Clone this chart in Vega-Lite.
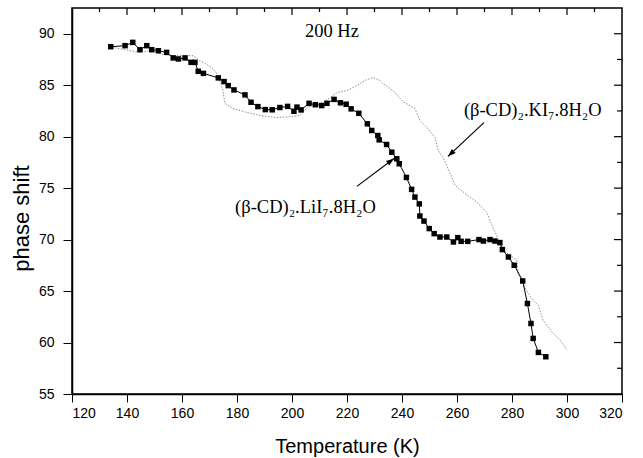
{
  "$schema": "https://vega.github.io/schema/vega-lite/v6.json",
  "width": 550,
  "height": 386,
  "autosize": {"type": "none"},
  "padding": {"left": 72, "top": 8, "right": 21, "bottom": 64},
  "background": "white",
  "config": {
    "view": {"stroke": "black", "strokeWidth": 1.5},
    "axis": {
      "domainColor": "black",
      "domainWidth": 1.5,
      "tickColor": "black",
      "tickWidth": 1,
      "grid": false,
      "labelFont": "Liberation Sans",
      "labelFontSize": 14,
      "labelColor": "black",
      "titleFont": "Liberation Sans",
      "titleFontWeight": "normal",
      "titleColor": "black"
    }
  },
  "datasets": {
    "li": [
      {"T": 134.1, "P": 88.74}, {"T": 139.3, "P": 88.84}, {"T": 142.1, "P": 89.16}, {"T": 144.7, "P": 88.45},
      {"T": 147.2, "P": 88.84}, {"T": 149.0, "P": 88.45}, {"T": 151.4, "P": 88.35}, {"T": 154.4, "P": 88.19},
      {"T": 156.8, "P": 87.65}, {"T": 158.7, "P": 87.55}, {"T": 161.1, "P": 87.65}, {"T": 163.3, "P": 87.22},
      {"T": 164.7, "P": 87.22}, {"T": 165.9, "P": 86.35}, {"T": 167.8, "P": 86.15}, {"T": 173.2, "P": 85.71},
      {"T": 175.3, "P": 85.35}, {"T": 176.8, "P": 84.96}, {"T": 178.9, "P": 84.54}, {"T": 182.9, "P": 84.06},
      {"T": 185.1, "P": 83.34}, {"T": 187.6, "P": 82.92}, {"T": 190.3, "P": 82.63}, {"T": 192.8, "P": 82.61},
      {"T": 195.6, "P": 82.83}, {"T": 198.4, "P": 82.94}, {"T": 200.7, "P": 82.47}, {"T": 201.8, "P": 82.87},
      {"T": 203.3, "P": 82.6}, {"T": 206.2, "P": 83.24}, {"T": 208.5, "P": 83.1}, {"T": 210.8, "P": 83.02},
      {"T": 212.7, "P": 83.24}, {"T": 215.3, "P": 83.62}, {"T": 217.6, "P": 83.29}, {"T": 219.7, "P": 83.15},
      {"T": 221.5, "P": 82.7}, {"T": 224.3, "P": 82.27}, {"T": 227.4, "P": 81.25}, {"T": 229.0, "P": 80.6},
      {"T": 231.2, "P": 80.11}, {"T": 231.7, "P": 79.69}, {"T": 234.4, "P": 79.24}, {"T": 236.3, "P": 78.49},
      {"T": 238.1, "P": 77.85}, {"T": 239.0, "P": 77.37}, {"T": 241.6, "P": 76.04}, {"T": 243.5, "P": 74.88},
      {"T": 244.7, "P": 74.13}, {"T": 246.3, "P": 73.47}, {"T": 246.5, "P": 72.29}, {"T": 248.0, "P": 71.8},
      {"T": 249.9, "P": 71.07}, {"T": 251.7, "P": 70.58}, {"T": 253.8, "P": 70.25}, {"T": 256.3, "P": 70.25},
      {"T": 258.7, "P": 69.77}, {"T": 260.3, "P": 70.19}, {"T": 261.5, "P": 69.83}, {"T": 263.9, "P": 69.83},
      {"T": 268.0, "P": 70.0}, {"T": 269.6, "P": 69.86}, {"T": 272.0, "P": 70.0}, {"T": 273.8, "P": 69.86},
      {"T": 275.6, "P": 69.71}, {"T": 276.5, "P": 69.03}, {"T": 278.7, "P": 68.31}, {"T": 280.8, "P": 67.51},
      {"T": 283.9, "P": 65.98}, {"T": 285.6, "P": 63.79}, {"T": 286.9, "P": 61.85}, {"T": 287.7, "P": 60.4},
      {"T": 289.6, "P": 59.04}, {"T": 292.3, "P": 58.62}
    ],
    "ki": [
      {"T": 135.6, "P": 88.64}, {"T": 141.1, "P": 88.35}, {"T": 144.7, "P": 88.19}, {"T": 148.4, "P": 88.35},
      {"T": 152.0, "P": 88.06}, {"T": 156.7, "P": 87.87}, {"T": 161.1, "P": 87.87}, {"T": 164.0, "P": 87.87},
      {"T": 166.5, "P": 87.38}, {"T": 169.1, "P": 87.0}, {"T": 171.3, "P": 86.61}, {"T": 173.1, "P": 85.93},
      {"T": 174.9, "P": 84.48}, {"T": 175.6, "P": 83.22}, {"T": 178.5, "P": 82.74}, {"T": 183.6, "P": 82.35},
      {"T": 188.4, "P": 82.06}, {"T": 194.5, "P": 81.86}, {"T": 200.4, "P": 81.95}, {"T": 202.9, "P": 82.06},
      {"T": 205.5, "P": 82.83}, {"T": 211.3, "P": 83.32}, {"T": 216.4, "P": 84.29}, {"T": 220.0, "P": 84.48},
      {"T": 223.6, "P": 84.97}, {"T": 226.5, "P": 85.46}, {"T": 229.5, "P": 85.75}, {"T": 232.0, "P": 85.46},
      {"T": 233.1, "P": 85.17}, {"T": 236.7, "P": 84.48}, {"T": 240.4, "P": 83.39}, {"T": 244.7, "P": 82.74},
      {"T": 246.5, "P": 81.57}, {"T": 249.1, "P": 80.89}, {"T": 252.0, "P": 79.92}, {"T": 253.1, "P": 78.66},
      {"T": 254.9, "P": 77.98}, {"T": 257.5, "P": 76.43}, {"T": 259.3, "P": 75.27}, {"T": 262.9, "P": 74.49},
      {"T": 266.5, "P": 73.8}, {"T": 270.9, "P": 72.64}, {"T": 272.7, "P": 71.38}, {"T": 274.5, "P": 70.32},
      {"T": 276.7, "P": 68.96}, {"T": 279.3, "P": 68.48}, {"T": 281.8, "P": 67.99}, {"T": 282.2, "P": 66.73},
      {"T": 284.0, "P": 65.76}, {"T": 285.8, "P": 64.79}, {"T": 287.6, "P": 64.11}, {"T": 289.5, "P": 63.63},
      {"T": 291.3, "P": 62.17}, {"T": 294.9, "P": 60.91}, {"T": 297.5, "P": 60.24}, {"T": 300.0, "P": 59.27}
    ],
    "labels": [
      {"text": "200 Hz", "T": 204.7, "P": 89.64},
      {"text": "(β-CD)₂.KI₇.8H₂O", "T": 262.5, "P": 82.05},
      {"text": "(β-CD)₂.LiI₇.8H₂O", "T": 179.3, "P": 72.55}
    ],
    "arrows": [
      {"T": 223.6, "P": 75.17, "T2": 237.1, "P2": 77.88, "ang": 52.9},
      {"T": 269.8, "P": 81.37, "T2": 256.7, "P2": 78.08, "ang": 226.6}
    ],
    "xmajor": [{"T": 140}, {"T": 160}, {"T": 180}, {"T": 200}, {"T": 220}, {"T": 240}, {"T": 260}, {"T": 280}, {"T": 300}],
    "xminor": [{"T": 130}, {"T": 150}, {"T": 170}, {"T": 190}, {"T": 210}, {"T": 230}, {"T": 250}, {"T": 270}, {"T": 290}, {"T": 310}],
    "ymajor": [{"P": 60}, {"P": 65}, {"P": 70}, {"P": 75}, {"P": 80}, {"P": 85}, {"P": 90}],
    "yminor": [{"P": 57.5}, {"P": 62.5}, {"P": 67.5}, {"P": 72.5}, {"P": 77.5}, {"P": 82.5}, {"P": 87.5}]
  },
  "layer": [
    {
      "data": {"name": "ki"},
      "mark": {"type": "line", "color": "#8f8f8f", "strokeWidth": 1, "strokeDash": [1.5, 1.5]},
      "encoding": {
        "x": {
          "field": "T", "type": "quantitative",
          "scale": {"domain": [120, 320], "nice": false, "zero": false},
          "axis": {
            "orient": "bottom",
            "values": [120,130,140,150,160,170,180,190,200,210,220,230,240,250,260,270,280,290,300,310,320],
            "labelExpr": "datum.value % 20 === 0 ? datum.label : ''",
            "tickSize": {"condition": {"test": "datum.value % 20 !== 0", "value": 4}, "value": 8},
            "labelPadding": 4,
            "title": "Temperature (K)",
            "titleFontSize": 20,
            "titleBaseline": "alphabetic",
            "titleY": 58
          }
        },
        "y": {
          "field": "P", "type": "quantitative",
          "scale": {"domain": [55, 92.5], "nice": false, "zero": false},
          "axis": {
            "orient": "left",
            "values": [55,57.5,60,62.5,65,67.5,70,72.5,75,77.5,80,82.5,85,87.5,90],
            "labelExpr": "datum.value % 5 === 0 ? datum.label : ''",
            "tickSize": {"condition": {"test": "datum.value % 5 !== 0", "value": 5}, "value": 9},
            "labelPadding": 9,
            "title": "phase shift",
            "titleFontSize": 22,
            "titleAngle": -90,
            "titleBaseline": "alphabetic",
            "titleX": -44,
            "titleY": 210
          }
        }
      }
    },
    {
      "data": {"name": "li"},
      "mark": {"type": "line", "color": "black", "strokeWidth": 1},
      "encoding": {
        "x": {"field": "T", "type": "quantitative"},
        "y": {"field": "P", "type": "quantitative"}
      }
    },
    {
      "data": {"name": "li"},
      "mark": {"type": "point", "shape": "square", "filled": true, "size": 30, "color": "black", "opacity": 1},
      "encoding": {
        "x": {"field": "T", "type": "quantitative"},
        "y": {"field": "P", "type": "quantitative"}
      }
    },
    {
      "data": {"name": "xmajor"},
      "mark": {"type": "rule", "color": "black", "strokeWidth": 1.2},
      "encoding": {
        "x": {"field": "T", "type": "quantitative"},
        "y": {"datum": 92.5, "type": "quantitative"},
        "y2": {"datum": 91.82}
      }
    },
    {
      "data": {"name": "xminor"},
      "mark": {"type": "rule", "color": "black", "strokeWidth": 1.2},
      "encoding": {
        "x": {"field": "T", "type": "quantitative"},
        "y": {"datum": 92.5, "type": "quantitative"},
        "y2": {"datum": 92.11}
      }
    },
    {
      "data": {"name": "ymajor"},
      "mark": {"type": "rule", "color": "black", "strokeWidth": 1.2},
      "encoding": {
        "x": {"datum": 320, "type": "quantitative"},
        "x2": {"datum": 317.1},
        "y": {"field": "P", "type": "quantitative"}
      }
    },
    {
      "data": {"name": "yminor"},
      "mark": {"type": "rule", "color": "black", "strokeWidth": 1.2},
      "encoding": {
        "x": {"datum": 320, "type": "quantitative"},
        "x2": {"datum": 318.2},
        "y": {"field": "P", "type": "quantitative"}
      }
    },
    {
      "data": {"name": "arrows"},
      "mark": {"type": "rule", "color": "black", "strokeWidth": 1.2},
      "encoding": {
        "x": {"field": "T", "type": "quantitative"},
        "y": {"field": "P", "type": "quantitative"},
        "x2": {"field": "T2"},
        "y2": {"field": "P2"}
      }
    },
    {
      "data": {"name": "arrows"},
      "mark": {"type": "point", "shape": "M0,0L-0.35,1L0.35,1Z", "filled": true, "size": 256, "color": "black", "opacity": 1},
      "encoding": {
        "x": {"field": "T2", "type": "quantitative"},
        "y": {"field": "P2", "type": "quantitative"},
        "angle": {"field": "ang", "type": "quantitative", "scale": null}
      }
    },
    {
      "data": {"name": "labels"},
      "mark": {"type": "text", "font": "Liberation Serif", "fontSize": 18.5, "align": "left", "baseline": "alphabetic", "color": "black"},
      "encoding": {
        "x": {"field": "T", "type": "quantitative"},
        "y": {"field": "P", "type": "quantitative"},
        "text": {"field": "text"}
      }
    }
  ]
}
